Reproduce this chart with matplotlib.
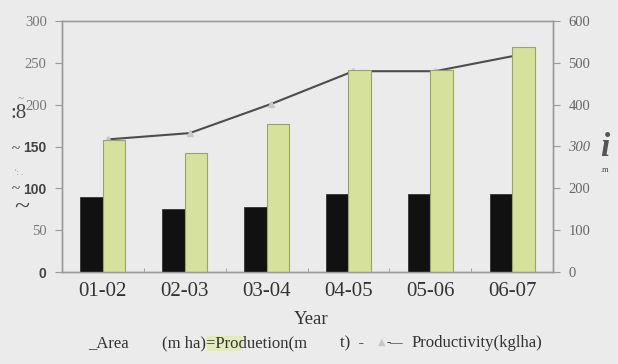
import matplotlib
matplotlib.use("Agg")
import matplotlib.pyplot as plt
from matplotlib.patches import Rectangle
import numpy as np

years = ["01-02", "02-03", "03-04", "04-05", "05-06", "06-07"]
area = [90, 75, 78, 93, 93, 93]                  # m ha (left axis)
production = [158, 142, 177, 242, 242, 269]      # m t (left axis)
productivity = [317, 332, 402, 480, 480, 518]    # kg/ha (right axis)

left_ticks = [0, 50, 100, 150, 200, 250, 300]
right_ticks = [0, 100, 200, 300, 400, 500, 600]

W, H = 618, 364
fig = plt.figure(figsize=(W / 100, H / 100), dpi=100)
fig.patch.set_facecolor("#ebebeb")

# axes box in pixel coordinates
x0, x1, y_top, y_bot = 62, 553, 21, 272
ax = fig.add_axes([x0 / W, 1 - y_bot / H, (x1 - x0) / W, (y_bot - y_top) / H])

serif = "Liberation Serif"

x = np.arange(len(years))
bw = 0.275

# productivity line sits on the secondary axis, drawn underneath the bars
ax2 = ax.twinx()
ax2.set_facecolor("white")
ax.set_zorder(ax2.get_zorder() + 1)
ax.patch.set_visible(False)

ax.bar(x - bw / 2, area, bw, color="#111111", edgecolor="#333333", linewidth=0.6, zorder=2)
ax.bar(x + bw / 2, production, bw, color="#d6e29c", edgecolor="#9aa565", linewidth=0.8, zorder=2)

ax.set_xlim(-0.5, len(years) - 0.5)
ax.set_ylim(0, 300)
ax.set_yticks(left_ticks)
ax.set_xticks(x)
ax.set_xticklabels(years, fontfamily=serif, fontsize=15, color="#333333")
ax.tick_params(axis="x", length=0, pad=7)
ax.set_xticks(np.arange(len(years) + 1) - 0.5, minor=True)
ax.tick_params(axis="x", which="minor", length=3, direction="in", color="#999999")
ax.tick_params(axis="y", length=5, width=0.8, color="#999999", pad=6)

for lbl, v in zip(ax.get_yticklabels(), left_ticks):
    if v in (0, 100, 150):
        lbl.set_fontfamily("Liberation Sans")
        lbl.set_fontweight("bold")
        lbl.set_fontsize(10)
        lbl.set_color("#444444")
    else:
        lbl.set_fontfamily(serif)
        lbl.set_fontsize(10.5)
        lbl.set_color("#777777")

for s in ax.spines.values():
    s.set_color("#9a9a9a")
    s.set_linewidth(1.0)

ax2.set_ylim(0, 600)
ax2.set_yticks(right_ticks)
ax2.plot(x + 0.06, productivity, color="#4d4d4d", linewidth=1.5, marker="^",
         markersize=4, markerfacecolor="#c8c8c8", markeredgecolor="#c8c8c8", zorder=1)
ax2.tick_params(axis="y", length=5, width=0.8, color="#999999", pad=6)
for lbl, v in zip(ax2.get_yticklabels(), right_ticks):
    lbl.set_fontfamily(serif)
    lbl.set_fontsize(10.5)
    lbl.set_color("#666666")
    if v == 300:
        lbl.set_fontstyle("italic")
for s in ax2.spines.values():
    s.set_color("#9a9a9a")
    s.set_linewidth(1.0)

def px(xp, yp, s, **kw):
    fig.text(xp / W, 1 - yp / H, s, **kw)

# x-axis title
px(311, 320, "Year", ha="center", va="center", fontfamily=serif, fontsize=13.5, color="#333333")

# vertical axis captions
px(18, 114, ":8", ha="center", va="center", fontfamily=serif, fontsize=15, color="#444444")
px(21, 99, "~", ha="center", va="center", fontfamily=serif, fontsize=8, color="#777777")
px(16, 150, "~", ha="center", va="center", fontfamily=serif, fontsize=11, color="#555555", fontweight="bold")
px(19, 173, "': .", ha="center", va="center", fontfamily=serif, fontsize=6, color="#999999")
px(16, 190, "~", ha="center", va="center", fontfamily=serif, fontsize=11, color="#555555", fontweight="bold")
px(22, 208, "~", ha="center", va="center", fontfamily=serif, fontsize=20, color="#444444")
px(605, 148, "i", ha="center", va="center", fontfamily=serif, fontsize=24, color="#555555",
   fontstyle="italic", fontweight="bold")
px(605, 170, ".m", ha="center", va="center", fontfamily=serif, fontsize=6, color="#444444")

# legend line
ly = 343
lk = dict(va="center", fontfamily=serif, fontsize=12, color="#333333")
fig.patches.append(Rectangle((207 / W, 1 - (ly + 8) / H), 36 / W, 15 / H,
                             transform=fig.transFigure, facecolor="#e3ebbd",
                             edgecolor="none", zorder=0))
px(88, ly, "_Area", **lk)
px(162, ly, "(m ha)=Produetion(m", **lk)
px(340, ly, "t)  -", **lk)
px(382, ly - 1, "\u25b2", ha="center", va="center", fontsize=7, color="#c8c8c8")
px(387, ly, "-\u2014", va="center", fontfamily=serif, fontsize=9, color="#333333")
px(412, ly, "Productivity(kglha)", **lk)

fig.savefig("out.png", dpi=100, facecolor=fig.get_facecolor())
